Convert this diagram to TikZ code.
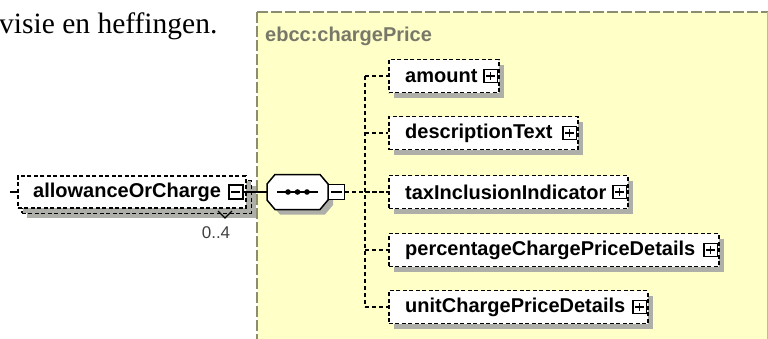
\documentclass[tikz,border=0pt]{standalone}
\usepackage{fontspec}
\setmainfont{Liberation Serif}
\setsansfont{Liberation Sans}
\usetikzlibrary{shadows,calc}
\definecolor{bgyellow}{RGB}{255,255,200}
\definecolor{bordergray}{RGB}{140,140,110}
\definecolor{titlegray}{RGB}{120,120,105}
\definecolor{shadowgray}{RGB}{175,175,170}
\tikzset{
  elembox/.style={draw=black, line width=1.6pt, dash pattern=on 4pt off 2.5pt,
    fill=white, minimum height=33, inner sep=0pt, anchor=west,
    drop shadow={shadow xshift=5pt, shadow yshift=-5pt, fill=shadowgray, opacity=1}},
  elemtext/.style={font=\sffamily\bfseries\fontsize{20}{20}\selectfont, inner sep=0pt, anchor=west},
  plusbox/.style={draw, line width=1.3pt, fill=white, minimum size=13.5, inner sep=0pt, anchor=east,
    path picture={
      \draw[line width=1.3pt] ([xshift=2.5pt]path picture bounding box.west) -- ([xshift=-2.5pt]path picture bounding box.east);
      \draw[line width=1.3pt] ([yshift=-2.5pt]path picture bounding box.north) -- ([yshift=2.5pt]path picture bounding box.south);}},
  minusbox/.style={draw, line width=1.3pt, fill=white, minimum width=14, minimum height=14, inner sep=0pt,
    path picture={
      \draw[line width=1.3pt] ([xshift=2.5pt]path picture bounding box.west) -- ([xshift=-2.5pt]path picture bounding box.east);}},
  conn/.style={line width=1.6pt, dash pattern=on 4pt off 3pt},
  solidconn/.style={line width=1.5pt},
}
\begin{document}
\begin{tikzpicture}[x=1pt,y=-1pt]
\useasboundingbox (0,0) rectangle (768,338);
% background panel
\fill[bgyellow] (257,12) rectangle (768,340);
\draw[bordergray, line width=1.6pt, dash pattern=on 11pt off 3pt] (257,12) -- (768,12);
\draw[bordergray, line width=1.6pt, dash pattern=on 11pt off 3pt] (257,12) -- (257,340);
\draw[bordergray!60, line width=0.8pt] (767,12) -- (767,340);

% texts
\node[font=\fontsize{29.5}{29.5}\selectfont, anchor=base west, inner sep=0pt] (intro) at (-1,33) {visie en heffingen.};
\node[font=\sffamily\bfseries\fontsize{20}{20}\selectfont, text=titlegray, anchor=base west, inner sep=0pt] (title) at (265,41) {ebcc:chargePrice};

% allowanceOrCharge (repeated element)
\node[elembox, minimum width=229, minimum height=32] (aocback) at (21,197) {};
\node[elembox, minimum width=228, minimum height=32, drop shadow={opacity=0}] (aoc) at (17,192) {};
\node[elemtext] (aoct) at ([xshift=16pt]aoc.west) {allowanceOrCharge};
\node[minusbox, anchor=east] (aocm) at ([xshift=-3pt]aoc.east) {};
\draw[line width=1.3pt] (218,211) -- (225,218) -- (232,211);
\node[font=\sffamily\fontsize{17}{17}\selectfont, text=black!75, inner sep=0pt] (occ) at (216,233) {0..4};
\coordinate (aocin) at (10,192);
\draw[solidconn] (aocin) -- (aoc.west);

% sequence compositor
\path[draw, fill=white, line width=1.5pt,
  drop shadow={shadow xshift=5pt, shadow yshift=-5pt, fill=shadowgray, opacity=1}]
  (267,184) -- (275,174.5) -- (320,174.5) -- (328,184) -- (328,200) -- (320,209.5) -- (275,209.5) -- (267,200) -- cycle;
\node[minimum width=61, minimum height=35, inner sep=0pt] (seq) at (297.5,192) {};
\draw[line width=1.5pt] (277,192) -- (318,192);
\fill (288,192) circle (2.8) (297.5,192) circle (2.8) (307,192) circle (2.8);
\node[minusbox, minimum width=16, minimum height=15, anchor=west] (seqm) at (328,192) {};
\draw[solidconn] (aocm.east) -- (seq.west);

% children
\coordinate (spine) at (365,0);
\node[elembox, minimum width=110] (amount) at (388,76) {};
\node[elembox, minimum width=189] (desc) at (388,133) {};
\node[elembox, minimum width=239] (tax) at (388,192) {};
\node[elembox, minimum width=330] (perc) at (388,250) {};
\node[elembox, minimum width=259] (unit) at (388,307) {};

\draw[conn] (seqm.east) -- (tax.west);
\draw[conn] (amount.west -| spine) -- (unit.west -| spine);
\foreach \b in {amount,desc,tax,perc,unit}{
  \draw[conn] (\b.west -| spine) -- (\b.west);
}

\node[elemtext] (amountt) at ([xshift=17pt]amount.west) {amount};
\node[plusbox] (amountp) at ([xshift=-1.5pt]amount.east) {};
\node[elemtext] (desct) at ([xshift=17pt]desc.west) {descriptionText};
\node[plusbox] (descp) at ([xshift=-1.5pt]desc.east) {};
\node[elemtext] (taxt) at ([xshift=17pt]tax.west) {taxInclusionIndicator};
\node[plusbox] (taxp) at ([xshift=-1.5pt]tax.east) {};
\node[elemtext] (perct) at ([xshift=17pt]perc.west) {percentageChargePriceDetails};
\node[plusbox] (percp) at ([xshift=-1.5pt]perc.east) {};
\node[elemtext] (unitt) at ([xshift=17pt]unit.west) {unitChargePriceDetails};
\node[plusbox] (unitp) at ([xshift=-1.5pt]unit.east) {};
\end{tikzpicture}
\end{document}
